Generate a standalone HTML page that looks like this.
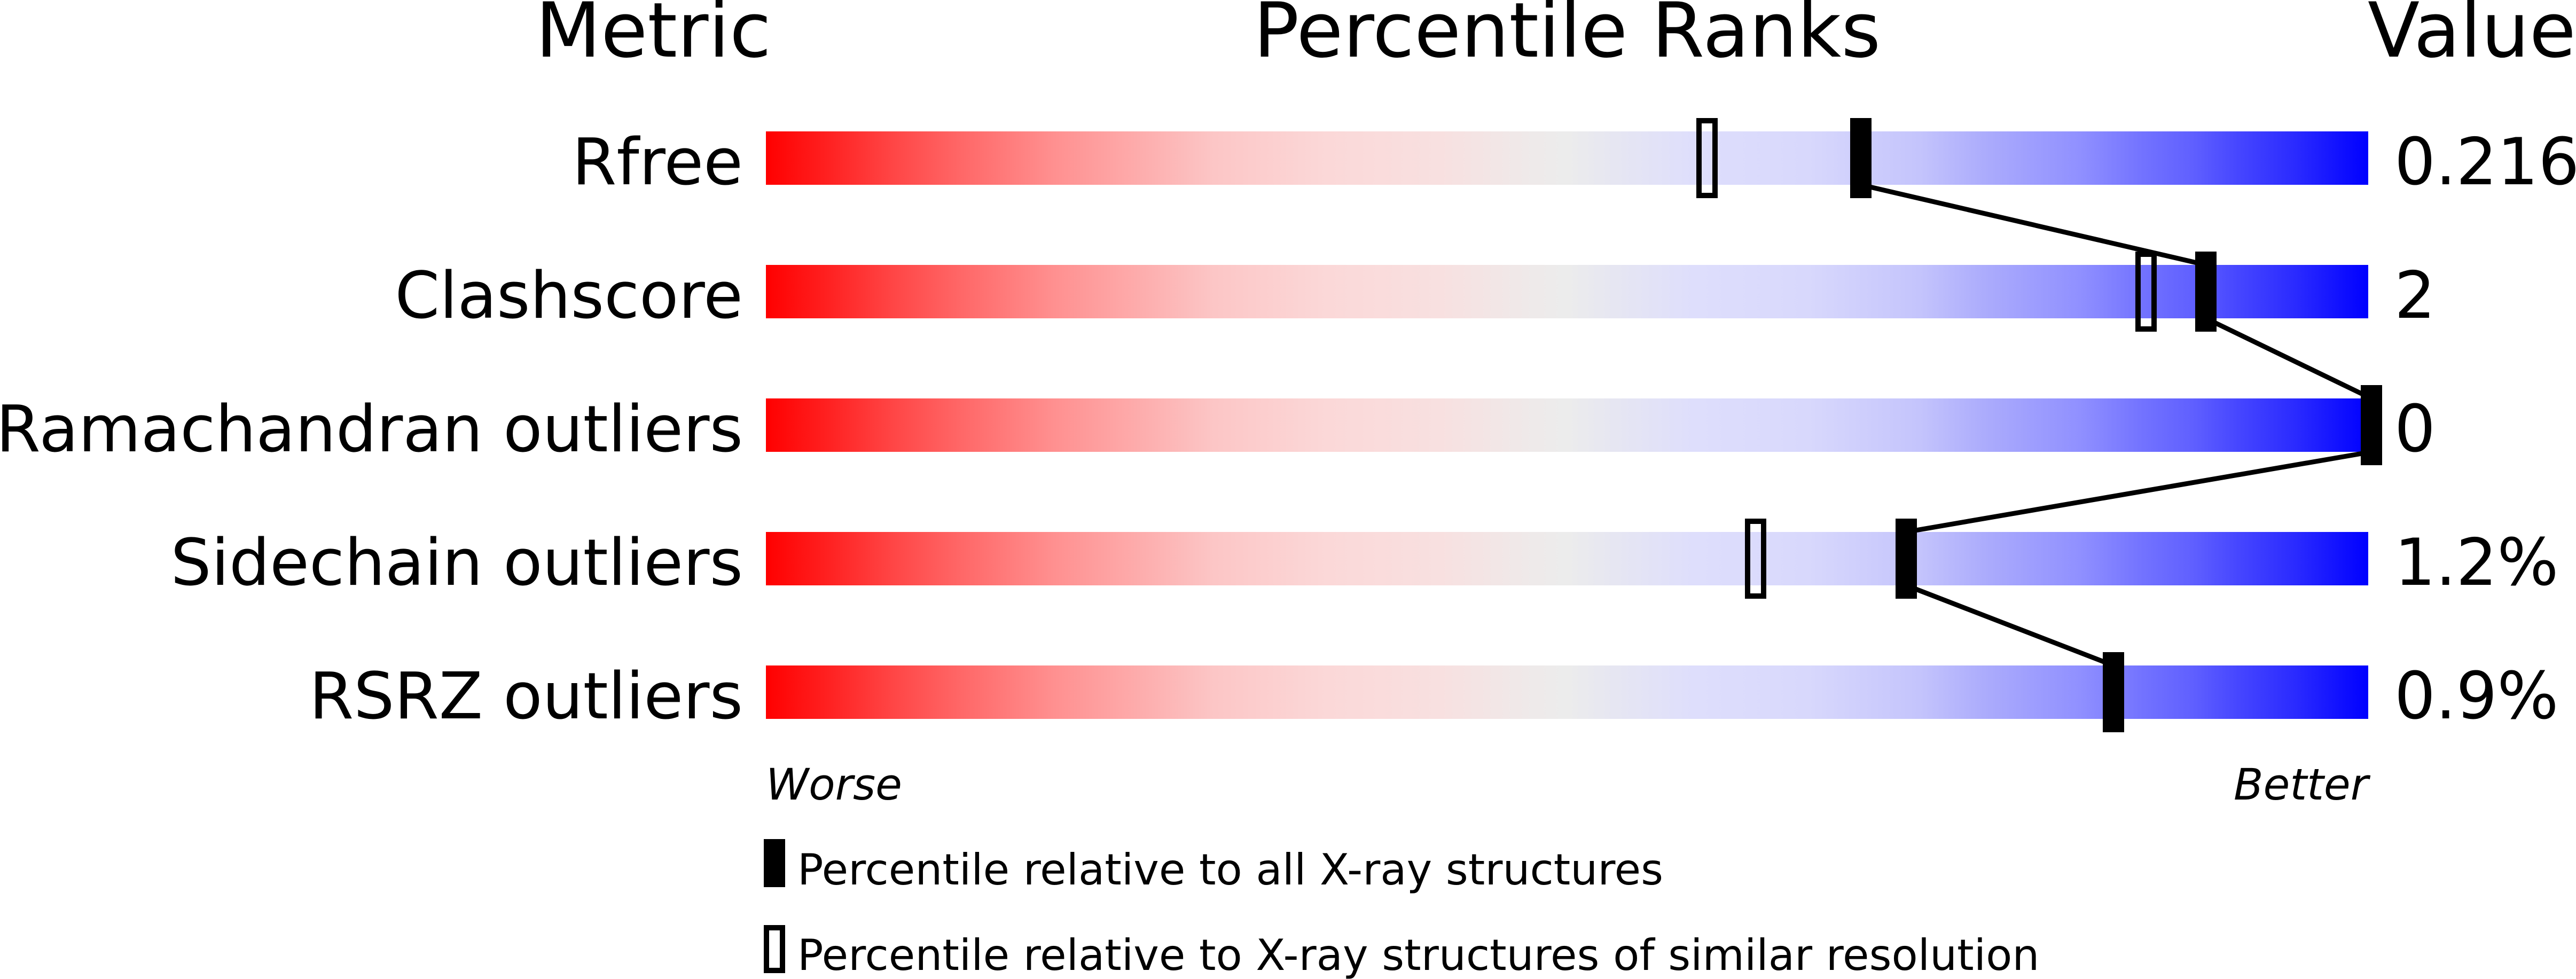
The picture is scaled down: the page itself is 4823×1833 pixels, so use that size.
<!DOCTYPE html>
<html>
<head>
<meta charset="utf-8">
<style>
html,body{margin:0;padding:0;background:#fff;}
svg{display:block;}
text{font-family:"DejaVu Sans","Liberation Sans",sans-serif;fill:#000;}
</style>
</head>
<body>
<svg width="4823" height="1833" viewBox="0 0 4823 1833" xmlns="http://www.w3.org/2000/svg">
<defs>
<linearGradient id="g" x1="0" y1="0" x2="1" y2="0">
<stop offset="0" stop-color="#ff0000"/>
<stop offset="0.04" stop-color="#ff2222"/>
<stop offset="0.08" stop-color="#ff4646"/>
<stop offset="0.12" stop-color="#ff6666"/>
<stop offset="0.18" stop-color="#ff9090"/>
<stop offset="0.24" stop-color="#fdb0b0"/>
<stop offset="0.28" stop-color="#fcc6c6"/>
<stop offset="0.35" stop-color="#fbd8d8"/>
<stop offset="0.42" stop-color="#f8e0e0"/>
<stop offset="0.48" stop-color="#eeeaea"/>
<stop offset="0.50" stop-color="#ececec"/>
<stop offset="0.53" stop-color="#e6e6f2"/>
<stop offset="0.58" stop-color="#dedefc"/>
<stop offset="0.65" stop-color="#d8d8fc"/>
<stop offset="0.72" stop-color="#c4c4fc"/>
<stop offset="0.76" stop-color="#acacfc"/>
<stop offset="0.82" stop-color="#9090ff"/>
<stop offset="0.86" stop-color="#7272ff"/>
<stop offset="0.89" stop-color="#6060ff"/>
<stop offset="0.92" stop-color="#4545ff"/>
<stop offset="0.955" stop-color="#2a2aff"/>
<stop offset="1" stop-color="#0000ff"/>
</linearGradient>
</defs>

<!-- headers -->
<text x="1444" y="106" font-size="142" text-anchor="end">Metric</text>
<text x="2934" y="106" font-size="142" text-anchor="middle">Percentile Ranks</text>
<text x="4433" y="106" font-size="142">Value</text>

<!-- bars -->
<rect x="1434" y="246" width="3000" height="100" fill="url(#g)"/>
<rect x="1434" y="496" width="3000" height="100" fill="url(#g)"/>
<rect x="1434" y="746" width="3000" height="100" fill="url(#g)"/>
<rect x="1434" y="996" width="3000" height="100" fill="url(#g)"/>
<rect x="1434" y="1246" width="3000" height="100" fill="url(#g)"/>

<!-- labels -->
<text x="1391" y="345" font-size="120" text-anchor="end">Rfree</text>
<text x="1391" y="595" font-size="120" text-anchor="end">Clashscore</text>
<text x="1391" y="845" font-size="120" text-anchor="end">Ramachandran outliers</text>
<text x="1391" y="1095" font-size="120" text-anchor="end">Sidechain outliers</text>
<text x="1391" y="1345" font-size="120" text-anchor="end">RSRZ outliers</text>

<!-- values -->
<text x="4483" y="345" font-size="121">0.216</text>
<text x="4483" y="595" font-size="121">2</text>
<text x="4483" y="845" font-size="121">0</text>
<text x="4483" y="1095" font-size="121">1.2%</text>
<text x="4483" y="1345" font-size="121">0.9%</text>

<!-- connecting lines -->
<g stroke="#000" stroke-width="9" fill="none" stroke-linecap="butt">
<line x1="3484" y1="346" x2="4130" y2="496"/>
<line x1="4130" y1="596" x2="4440" y2="746"/>
<line x1="4440" y1="846" x2="3569" y2="996"/>
<line x1="3569" y1="1096" x2="3957" y2="1246"/>
</g>

<!-- open markers (similar resolution) -->
<g fill="none" stroke="#000" stroke-width="10">
<rect x="3181" y="226" width="30" height="140"/>
<rect x="4003" y="476" width="30" height="140"/>
<rect x="3272" y="976" width="30" height="140"/>
</g>

<!-- solid markers (all X-ray) -->
<g fill="#000">
<rect x="3464" y="221" width="40" height="150"/>
<rect x="4110" y="471" width="40" height="150"/>
<rect x="4420" y="721" width="40" height="150"/>
<rect x="3549" y="971" width="40" height="150"/>
<rect x="3937" y="1221" width="40" height="150"/>
</g>

<!-- worse / better -->
<text x="1434" y="1497" font-size="81" font-style="italic">Worse</text>
<text x="4434" y="1497" font-size="81" font-style="italic" text-anchor="end">Better</text>

<!-- legend -->
<rect x="1430" y="1571" width="40" height="90" fill="#000"/>
<text x="1493" y="1656" font-size="80.5">Percentile relative to all X-ray structures</text>
<rect x="1435" y="1737" width="30" height="80" fill="none" stroke="#000" stroke-width="10"/>
<text x="1493" y="1816" font-size="80.5">Percentile relative to X-ray structures of similar resolution</text>
</svg>
</body>
</html>
